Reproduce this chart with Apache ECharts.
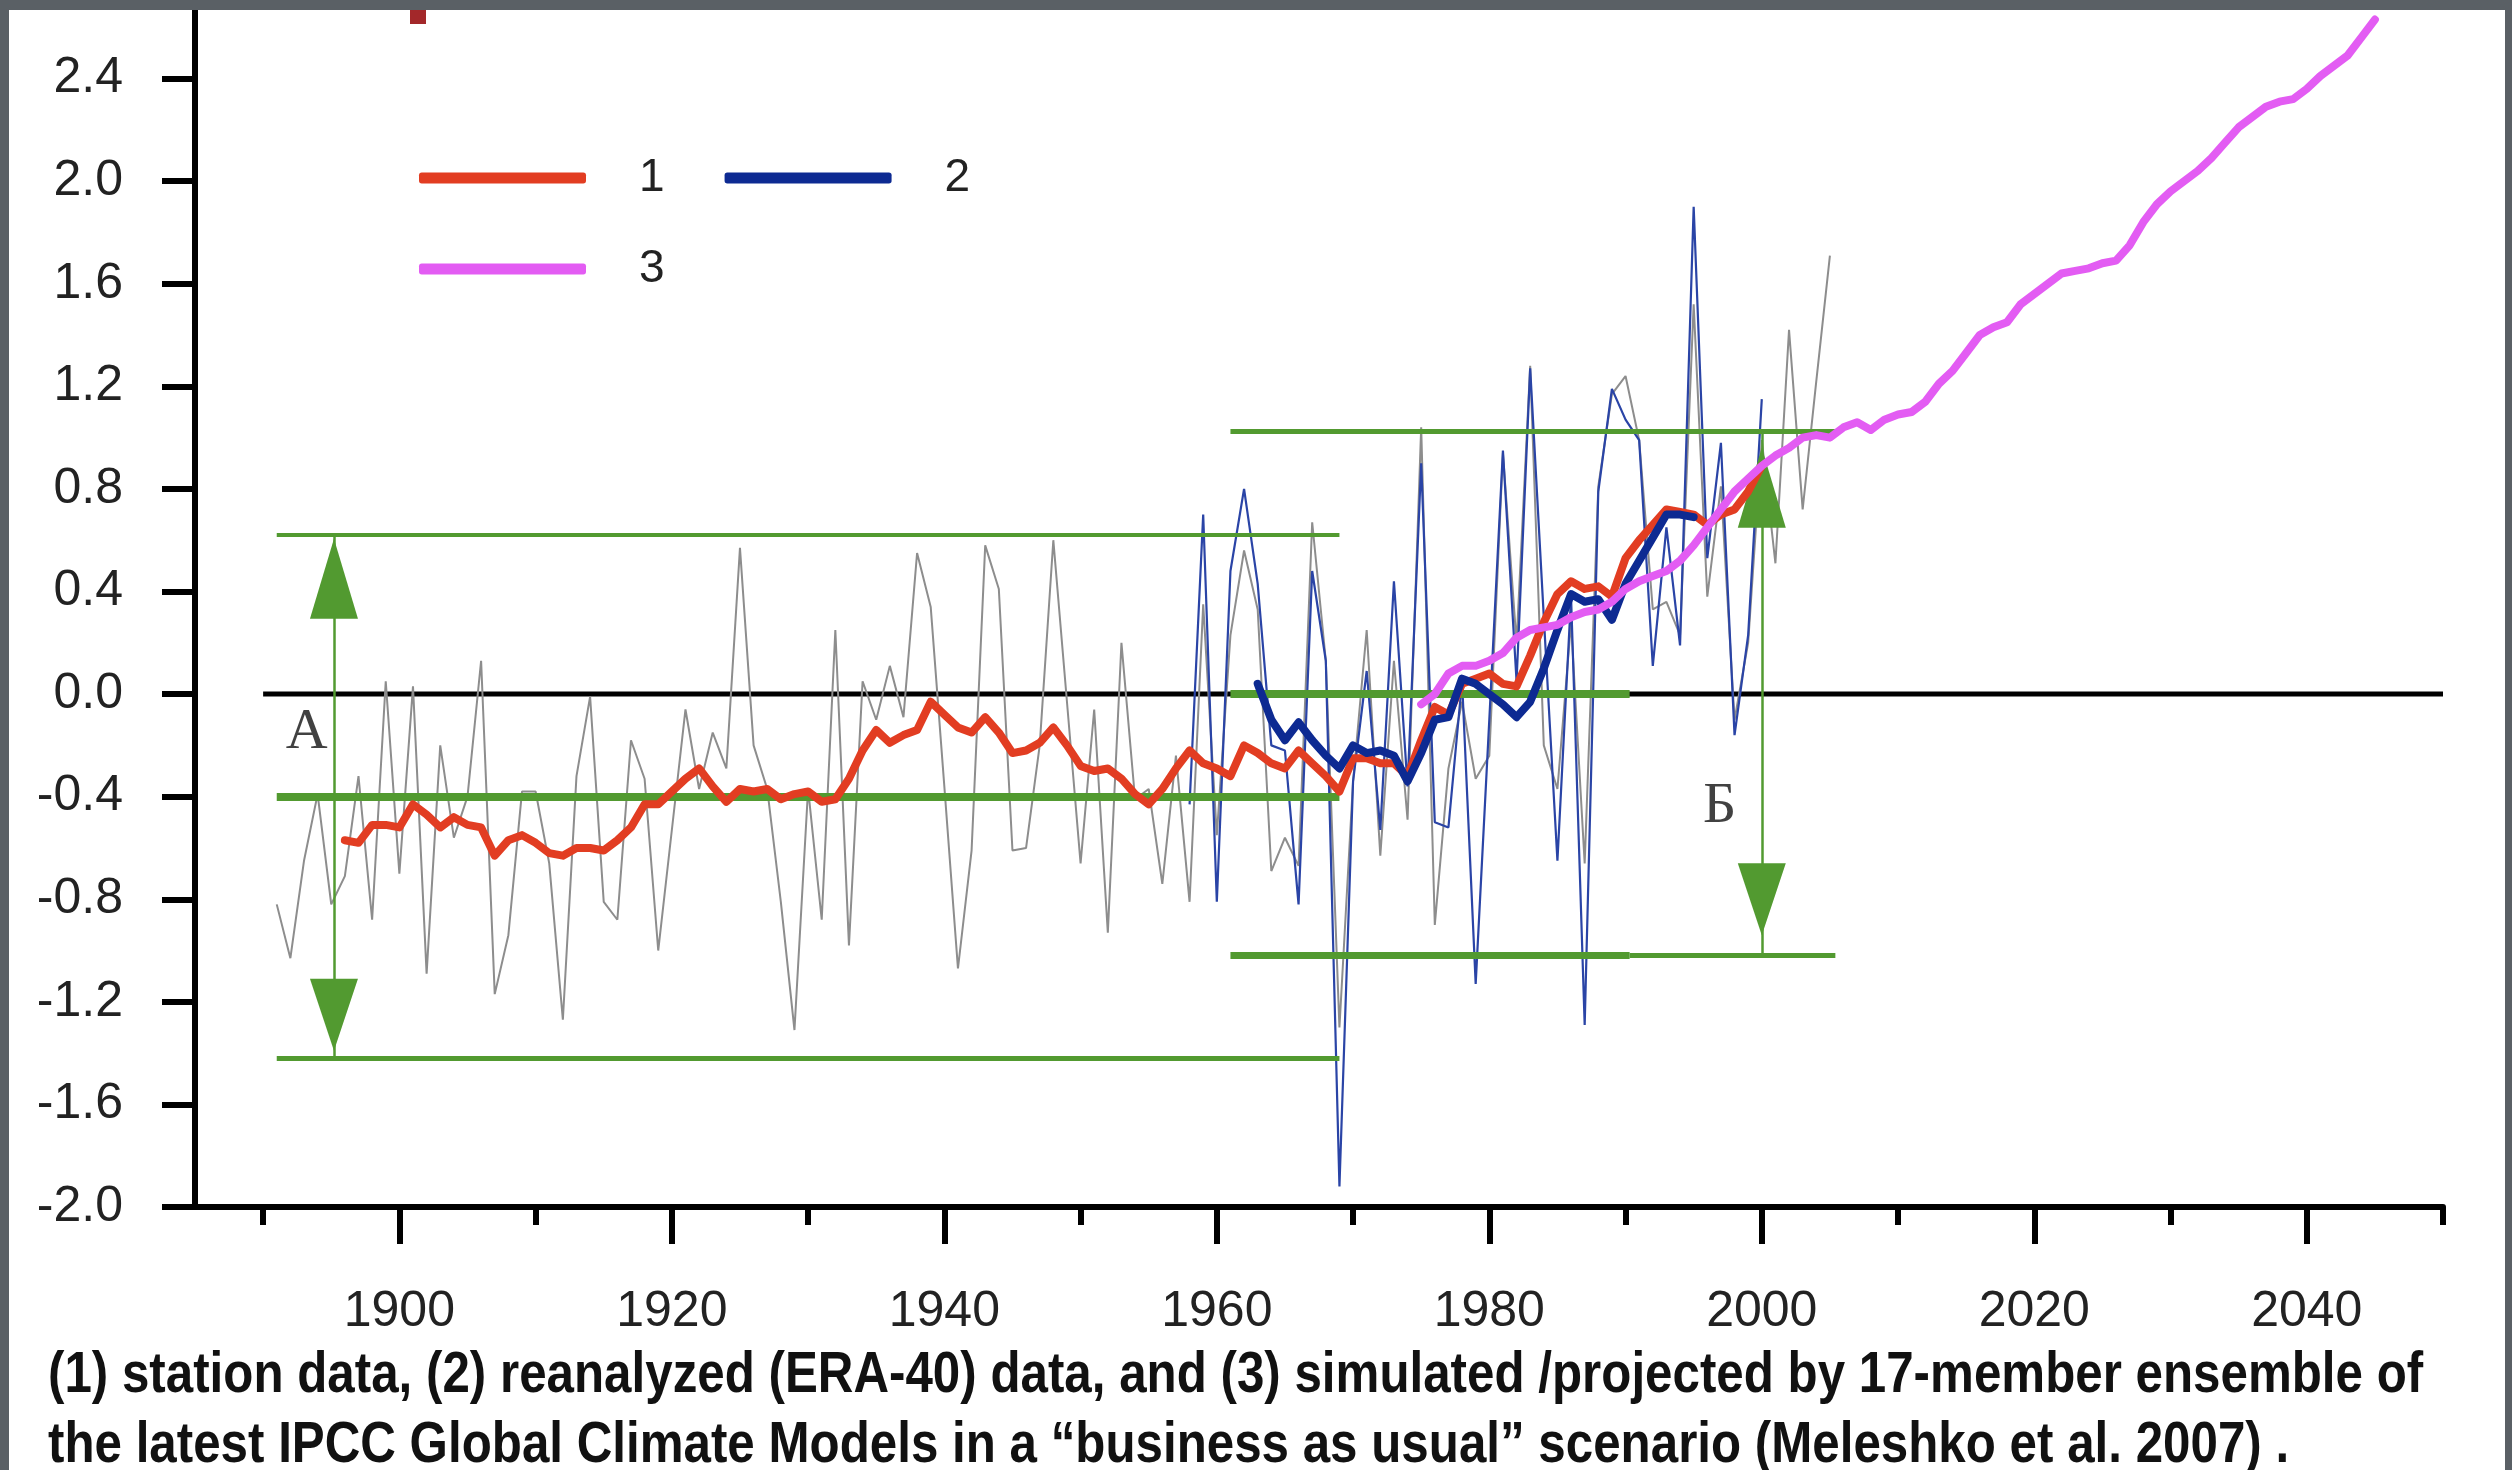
<!DOCTYPE html>
<html><head><meta charset="utf-8">
<script src="https://cdn.jsdelivr.net/npm/echarts@6/dist/echarts.min.js"></script>
<style>html,body{margin:0;padding:0;background:#fff}#c{width:2512px;height:1470px}</style>
</head><body><div id="c"></div>
<script>
// ---- data ----
const stationAnnualStart = 1891;
const stationAnnual = [-0.82,-1.03,-0.65,-0.39,-0.82,-0.71,-0.32,-0.88,0.05,-0.70,
  0.03,-1.09,-0.20,-0.56,-0.40,0.13,-1.17,-0.94,-0.38,-0.38,
  -0.66,-1.27,-0.32,-0.01,-0.81,-0.88,-0.18,-0.33,-1.00,-0.53,
  -0.06,-0.37,-0.15,-0.29,0.57,-0.20,-0.37,-0.81,-1.31,-0.37,
  -0.88,0.25,-0.98,0.05,-0.10,0.11,-0.09,0.55,0.34,-0.36,
  -1.07,-0.61,0.58,0.41,-0.61,-0.60,-0.20,0.60,-0.03,-0.66,
  -0.06,-0.93,0.20,-0.41,-0.37,-0.74,-0.24,-0.81,0.35,-0.55,
  0.23,0.56,0.33,-0.69,-0.56,-0.67,0.67,0.13,-1.30,-0.34,
  0.25,-0.63,0.13,-0.49,1.04,-0.90,-0.29,-0.03,-0.33,-0.24,
  0.94,0.20,1.28,-0.20,-0.37,0.28,-0.66,0.81,1.17,1.24,
  0.99,0.33,0.36,0.23,1.52,0.38,0.81,-0.10,0.20,0.99,
  0.51,1.42,0.72,1.22,1.71];
const reanalysisAnnualStart = 1958;
const reanalysisAnnual = [-0.43,0.70,-0.81,0.48,0.80,0.43,-0.20,-0.22,-0.82,0.48,
  0.13,-1.92,-0.34,0.09,-0.53,0.44,-0.36,0.90,-0.50,-0.52,
  0.05,-1.13,-0.10,0.95,0.05,1.27,0.30,-0.65,0.38,-1.29,
  0.79,1.19,1.07,0.99,0.11,0.65,0.19,1.90,0.53,0.98,
  -0.16,0.23,1.15];
const stationSmoothStart = 1896;
const stationSmooth = [-0.57,-0.58,-0.51,-0.51,-0.52,-0.43,-0.47,-0.52,-0.48,-0.51,
  -0.52,-0.63,-0.57,-0.55,-0.58,-0.62,-0.63,-0.60,-0.60,-0.61,
  -0.57,-0.52,-0.43,-0.43,-0.38,-0.33,-0.29,-0.36,-0.42,-0.37,
  -0.38,-0.37,-0.41,-0.39,-0.38,-0.42,-0.41,-0.33,-0.22,-0.14,
  -0.19,-0.16,-0.14,-0.03,-0.08,-0.13,-0.15,-0.09,-0.15,-0.23,
  -0.22,-0.19,-0.13,-0.20,-0.28,-0.30,-0.29,-0.33,-0.39,-0.43,
  -0.37,-0.29,-0.22,-0.27,-0.29,-0.32,-0.20,-0.23,-0.27,-0.29,
  -0.22,-0.27,-0.32,-0.38,-0.25,-0.25,-0.27,-0.27,-0.32,-0.18,
  -0.05,-0.08,0.04,0.06,0.08,0.04,0.03,0.15,0.28,0.39,
  0.44,0.41,0.42,0.38,0.53,0.60,0.66,0.72,0.71,0.70,
  0.66,0.70,0.72,0.79,0.89];
const reanalysisSmoothStart = 1963;
const reanalysisSmooth = [0.04,-0.10,-0.18,-0.11,-0.18,-0.24,-0.29,-0.20,-0.23,-0.22,
  -0.24,-0.34,-0.23,-0.10,-0.09,0.06,0.04,0.00,-0.04,-0.09,
  -0.03,0.10,0.25,0.39,0.36,0.37,0.29,0.43,0.52,0.61,
  0.70,0.70,0.69];
const modelStart = 1975;
const modelEnsemble = [-0.04,0.00,0.08,0.11,0.11,0.13,0.16,0.22,0.25,0.26,
  0.27,0.30,0.32,0.33,0.36,0.41,0.44,0.46,0.48,0.52,
  0.58,0.65,0.72,0.79,0.84,0.89,0.93,0.96,1.00,1.01,
  1.00,1.04,1.06,1.03,1.07,1.09,1.10,1.14,1.21,1.26,
  1.33,1.40,1.43,1.45,1.52,1.56,1.60,1.64,1.65,1.66,
  1.68,1.69,1.75,1.84,1.91,1.96,2.00,2.04,2.09,2.15,
  2.21,2.25,2.29,2.31,2.32,2.36,2.41,2.45,2.49,2.56,2.63];
const xMajorTicks = [1900,1920,1940,1960,1980,2000,2020,2040];
const xMinorTicks = [1890,1910,1930,1950,1970,1990,2010,2030,2050];
const yTicks = [-2.0,-1.6,-1.2,-0.8,-0.4,0.0,0.4,0.8,1.2,1.6,2.0,2.4];
// annotation geometry (data units)
const zeroLine = [[1890,0],[2050,0]];
const bandA = {from:1891, to:1969, top:0.62, mid:-0.40, bottom:-1.42, arrowX:1895.2};
const bandB = {from:1961, to:2005.4, split:1990.3, top:1.025, mid:0, bottom:-1.02, arrowX:2000};
const arrowHeadsUp = [[1895.2,0.45],[2000,0.805]];
const arrowHeadsDown = [[1895.2,-1.25],[2000,-0.80]];
const letterLabels = [{value:[1893.2,-0.15],name:'A'},{value:[1996.9,-0.44],name:'Б'}];
const caption = '(1) station data, (2) reanalyzed (ERA-40) data, and (3) simulated /projected by 17-member ensemble of\nthe latest IPCC Global Climate Models in a \u201cbusiness as usual\u201d scenario (Meleshko et al. 2007) .';

const pairs = (s, arr) => arr.map((v,i)=>[s+i, v]);
const SANS = "'Liberation Sans Narrow','Arial Narrow','Liberation Sans',sans-serif";
const GREEN = '#529a30';

function seg(x0,x1,y0,y1,w){return [{coord:[x0,y0],lineStyle:{width:w}},{coord:[x1,y1]}];}

const chart = echarts.init(document.getElementById('c'), null, {renderer:'canvas'});
chart.setOption({
  animation:false,
  backgroundColor:'#ffffff',
  grid:{left:195,right:69,top:-24,bottom:263,containLabel:false,outerBoundsMode:'none'},
  legend:[
    {data:['1','2'],left:414,top:150,orient:'horizontal',icon:'roundRect',itemWidth:167,itemHeight:11,itemGap:60,
     textStyle:{fontFamily:SANS,fontSize:46,color:'#222',padding:[0,0,0,48]}},
    {data:['3'],left:414,top:241,icon:'roundRect',itemWidth:167,itemHeight:11,
     textStyle:{fontFamily:SANS,fontSize:46,color:'#222',padding:[0,0,0,48]}}
  ],
  xAxis:[
    {type:'value',min:1885,max:2050,position:'bottom',
     axisLine:{show:true,onZero:false,lineStyle:{color:'#000',width:6}},
     axisTick:{show:true,customValues:xMajorTicks,length:37,lineStyle:{color:'#000',width:6}},
     axisLabel:{show:true,customValues:xMajorTicks,margin:80,fontFamily:SANS,fontSize:50,color:'#222',formatter:v=>String(v)},
     splitLine:{show:false}},
    {type:'value',min:1885,max:2050,position:'bottom',
     axisLine:{show:false,onZero:false},
     axisTick:{show:true,customValues:xMinorTicks,length:18,lineStyle:{color:'#000',width:6}},
     axisLabel:{show:false},splitLine:{show:false}}
  ],
  yAxis:{type:'value',min:-2,max:2.8,interval:0.4,
     axisLine:{show:true,onZero:false,lineStyle:{color:'#000',width:6}},
     axisTick:{show:true,customValues:yTicks,length:33,lineStyle:{color:'#000',width:6}},
     axisLabel:{show:true,customValues:yTicks,margin:72,fontFamily:SANS,fontSize:50,color:'#222',formatter:v=>Number(v).toFixed(1)},
     splitLine:{show:false}},
  series:[
    {name:'zero',type:'line',data:zeroLine,showSymbol:false,silent:true,z:1,
     lineStyle:{color:'#000',width:5}},
    {name:'station annual',type:'line',data:pairs(stationAnnualStart,stationAnnual),showSymbol:false,z:2,
     lineStyle:{color:'#8d8d8d',width:2}},
    {name:'reanalysis annual',type:'line',data:pairs(reanalysisAnnualStart,reanalysisAnnual),showSymbol:false,z:3,
     lineStyle:{color:'#2a44a6',width:2.2}},
    {name:'bands',type:'line',data:[],z:4,silent:true,
     markLine:{silent:true,symbol:['none','none'],label:{show:false},animation:false,
       lineStyle:{color:GREEN,type:'solid',width:4,opacity:1},
       data:[
         seg(bandA.from,bandA.to,bandA.top,bandA.top,4),
         seg(bandA.from,bandA.to,bandA.mid,bandA.mid,8),
         seg(bandA.from,bandA.to,bandA.bottom,bandA.bottom,5),
         seg(bandA.arrowX,bandA.arrowX,bandA.top,bandA.bottom,2.5),
         seg(bandB.from,bandB.to,bandB.top,bandB.top,5),
         seg(bandB.from,bandB.split,bandB.mid,bandB.mid,8),
         seg(bandB.from,bandB.split,bandB.bottom,bandB.bottom,7),
         seg(bandB.split,bandB.to,bandB.bottom,bandB.bottom,5),
         seg(bandB.arrowX,bandB.arrowX,bandB.top,bandB.bottom,2.5)
       ]}},
    {name:'headsUp',type:'scatter',data:arrowHeadsUp,symbol:'triangle',symbolSize:[48,80],z:5,silent:true,
     itemStyle:{color:GREEN,opacity:1}},
    {name:'headsDown',type:'scatter',data:arrowHeadsDown,symbol:'triangle',symbolRotate:180,symbolSize:[48,72],z:5,silent:true,
     itemStyle:{color:GREEN,opacity:1}},
    {name:'1',type:'line',data:pairs(stationSmoothStart,stationSmooth),showSymbol:false,z:6,
     itemStyle:{color:'#e23d22'},lineStyle:{color:'#e23d22',width:8,join:'round',cap:'round'}},
    {name:'2',type:'line',data:pairs(reanalysisSmoothStart,reanalysisSmooth),showSymbol:false,z:7,
     itemStyle:{color:'#0d2a92'},lineStyle:{color:'#0d2a92',width:8,join:'round',cap:'round'}},
    {name:'3',type:'line',data:pairs(modelStart,modelEnsemble),showSymbol:false,z:8,
     itemStyle:{color:'#e35cf3'},lineStyle:{color:'#e35cf3',width:8,join:'round',cap:'round'}},
    {name:'letters',type:'scatter',data:letterLabels,symbolSize:1,z:9,silent:true,itemStyle:{color:'rgba(0,0,0,0)'},
     label:{show:true,position:'inside',formatter:p=>p.name,fontFamily:"'Liberation Serif','DejaVu Serif',serif",fontSize:58,color:'#111'}}
  ],
  graphic:[
    {type:'text',left:48,top:1341,z:50,scaleX:0.85,scaleY:1,
     style:{text:caption,fontFamily:"'Liberation Sans',sans-serif",fontSize:58,fontWeight:'bold',fill:'#111',lineHeight:70}},
    {type:'rect',z:100,shape:{x:410,y:0,width:16,height:24},style:{fill:'#a3282a'}},
    {type:'rect',z:101,shape:{x:0,y:0,width:2512,height:10},style:{fill:'#5a6065'}},
    {type:'rect',z:101,shape:{x:0,y:0,width:9,height:1470},style:{fill:'#5a6065'}},
    {type:'rect',z:101,shape:{x:2505,y:0,width:7,height:1470},style:{fill:'#5a6065'}}
  ]
});
</script></body></html>
